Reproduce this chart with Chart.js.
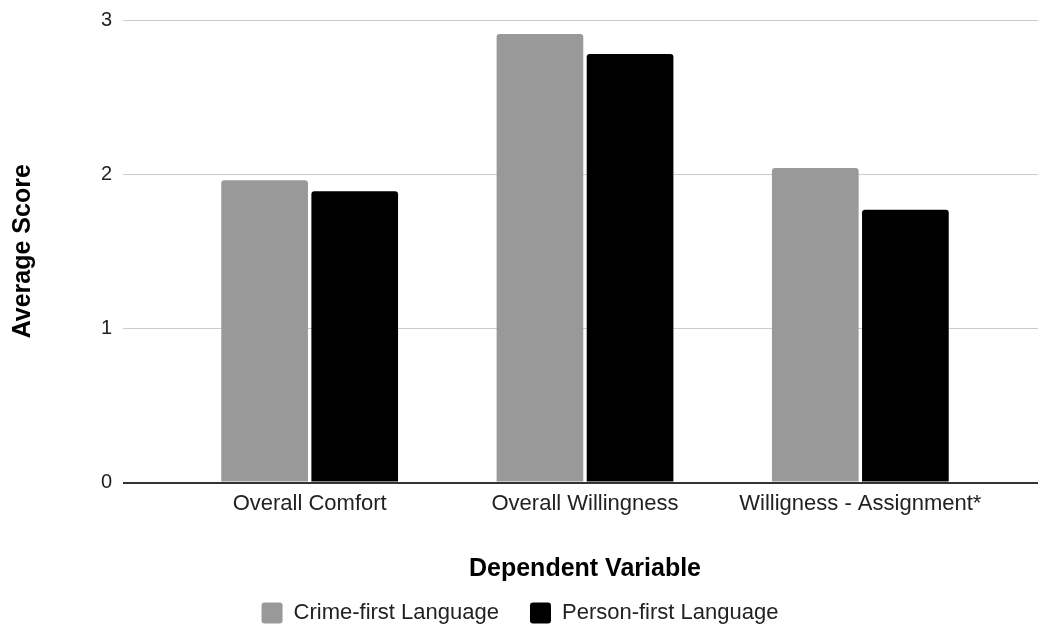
<!DOCTYPE html>
<html>
<head>
<meta charset="utf-8">
<script src="https://cdn.jsdelivr.net/npm/chart.js@4/dist/chart.umd.min.js"></script>
<style>
  html, body { margin: 0; padding: 0; background: #ffffff; }
  #wrap { width: 1040px; height: 625px; position: relative; }
</style>
</head>
<body>
<div id="wrap"><canvas id="chart" width="1040" height="625"></canvas></div>
<script>
// Categories on the x axis
const categories = ['Overall Comfort', 'Overall Willingness', 'Willigness - Assignment*'];
// Average scores per framing condition
const crimeFirst = [1.96, 2.91, 2.04];
const personFirst = [1.89, 2.78, 1.77];
const seriesNames = ['Crime-first Language', 'Person-first Language'];
// y axis range and step
const yMin = 0;
const yMax = 3;
const yStep = 1;

const FONT = '"Liberation Sans", Arial, Helvetica, sans-serif';
const gridColor = (ctx) => (ctx.tick && ctx.tick.value === 0 ? '#333333' : '#cccccc');
const gridWidth = (ctx) => (ctx.tick && ctx.tick.value === 0 ? 2 : 1);

new Chart(document.getElementById('chart'), {
  type: 'bar',
  data: {
    labels: categories,
    datasets: [
      {
        label: seriesNames[0],
        data: crimeFirst,
        backgroundColor: '#999999',
        borderRadius: { topLeft: 3, topRight: 3 },
        borderSkipped: 'start',
        categoryPercentage: 0.6545,
        barPercentage: 0.962
      },
      {
        label: seriesNames[1],
        data: personFirst,
        backgroundColor: '#000000',
        borderRadius: { topLeft: 3, topRight: 3 },
        borderSkipped: 'start',
        categoryPercentage: 0.6545,
        barPercentage: 0.962
      }
    ]
  },
  options: {
    responsive: false,
    animation: false,
    layout: { padding: { top: 20, left: 0, right: 0, bottom: 0 } },
    plugins: {
      tooltip: { enabled: false },
      legend: {
        position: 'bottom',
        maxHeight: 54,
        labels: {
          font: { family: FONT, size: 22 },
          color: '#222222',
          boxWidth: 21,
          boxHeight: 21,
          padding: 31,
          useBorderRadius: true,
          borderRadius: 3
        }
      }
    },
    scales: {
      x: {
        grid: { display: false, drawTicks: false },
        border: { display: false },
        ticks: {
          font: { family: FONT, size: 22 },
          color: '#222222',
          padding: 8,
          maxRotation: 0
        },
        title: {
          display: true,
          text: 'Dependent Variable',
          font: { family: FONT, size: 25, weight: 'bold' },
          color: '#000000',
          padding: { top: 0, bottom: -13 }
        },
        afterFit: (scale) => { scale.height = 88.5; }
      },
      y: {
        min: yMin,
        max: yMax,
        position: 'left',
        border: { display: false },
        grid: {
          color: gridColor,
          lineWidth: gridWidth,
          tickColor: gridColor,
          tickWidth: gridWidth,
          drawTicks: true,
          tickLength: 49
        },
        ticks: {
          stepSize: yStep,
          font: { family: FONT, size: 20, lineHeight: 0.8 },
          color: '#222222',
          padding: 11
        },
        title: {
          display: true,
          text: 'Average Score',
          font: { family: FONT, size: 25, weight: 'bold' },
          color: '#000000',
          padding: { top: 8, bottom: 0 }
        },
        afterFit: (scale) => { scale.width = 172; }
      },
      yRight: {
        min: yMin,
        max: yMax,
        position: 'right',
        border: { display: false },
        grid: {
          drawOnChartArea: false,
          color: gridColor,
          lineWidth: gridWidth,
          tickColor: gridColor,
          tickWidth: gridWidth,
          drawTicks: true,
          tickLength: 40
        },
        ticks: { stepSize: yStep, display: false },
        afterFit: (scale) => { scale.width = 42; }
      }
    }
  }
});
</script>
</body>
</html>
